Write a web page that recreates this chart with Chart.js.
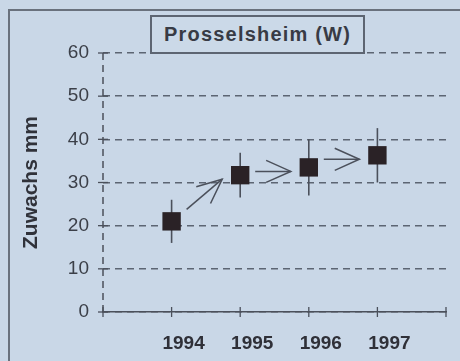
<!DOCTYPE html>
<html>
<head>
<meta charset="utf-8">
<script src="https://cdn.jsdelivr.net/npm/chart.js@4/dist/chart.umd.min.js"></script>
<style>
  html, body { margin: 0; padding: 0; overflow: hidden; }
  body { width: 460px; height: 361px; background: #c9d7e7; position: relative; font-family: "Liberation Sans", Arial, sans-serif; }
  #rahmen { position: absolute; left: 8px; top: 9px; width: 452px; height: 352px; border-left: 2px solid #69717d; border-top: 2px solid #69717d; box-sizing: border-box; }
  #wrap { position: absolute; left: 0; top: 0; width: 460px; height: 361px; }
  #titel { position: absolute; left: 150px; top: 15px; width: 215px; height: 39px; box-sizing: border-box;
           border: 2px solid #5d6572; background: #cbd9e8; color: #383b45; font-weight: bold; font-size: 20px;
           letter-spacing: 1.2px; text-align: center; line-height: 35px; }
</style>
</head>
<body>
<div id="rahmen"></div>
<div id="wrap"><canvas id="grafik" width="460" height="361"></canvas></div>
<div id="titel">Prosselsheim (W)</div>
<script>
const jahre = [1994, 1995, 1996, 1997];
const zuwachs = [21, 31.7, 33.5, 36.3];
const fehler = [5, 5.2, 6.5, 6.3];
const yTicks = [0, 10, 20, 30, 40, 50, 60];

const dunkel = '#4b505b';

// Fehlerbalken, Pfeile, gestrichelte y-Achse und Achsenkreuzchen
const extras = {
  id: 'extras',
  beforeDatasetsDraw(chart) {
    const ctx = chart.ctx, x = chart.scales.x, y = chart.scales.y;
    ctx.save();
    ctx.strokeStyle = dunkel;
    // y-Achse gestrichelt
    ctx.lineWidth = 1.5;
    ctx.setLineDash([7, 5]);
    ctx.beginPath(); ctx.moveTo(x.left, y.top); ctx.lineTo(x.left, y.bottom); ctx.stroke();
    ctx.setLineDash([]);
    ctx.lineWidth = 1.6;
    jahre.forEach((j, i) => {
      const px = x.getPixelForValue(j);
      ctx.beginPath();
      ctx.moveTo(px, y.getPixelForValue(zuwachs[i] + fehler[i]));
      ctx.lineTo(px, y.getPixelForValue(zuwachs[i] - fehler[i]));
      ctx.stroke();
    });
    // Kreuzchen an den Achsen
    ctx.lineWidth = 1.3;
    const x0 = x.left, y0 = y.getPixelForValue(0);
    yTicks.forEach(v => {
      const py = y.getPixelForValue(v);
      ctx.beginPath(); ctx.moveTo(x0 - 5, py); ctx.lineTo(x0 + 5, py); ctx.stroke();
    });
    x.ticks.forEach(t => {
      const px = x.getPixelForValue(t.value);
      ctx.beginPath(); ctx.moveTo(px, y0 - 5); ctx.lineTo(px, y0 + 5); ctx.stroke();
    });
    ctx.restore();
  },
  afterDatasetsDraw(chart) {
    const ctx = chart.ctx, x = chart.scales.x, y = chart.scales.y;
    ctx.save();
    ctx.strokeStyle = dunkel;
    ctx.lineWidth = 1.5;
    for (let i = 0; i < jahre.length - 1; i++) {
      const xa = x.getPixelForValue(jahre[i]), ya = y.getPixelForValue(zuwachs[i]);
      const xb = x.getPixelForValue(jahre[i + 1]), yb = y.getPixelForValue(zuwachs[i + 1]);
      const ey = yb + 4;
      const sy = Math.max(ya - 12, ey);
      const sx = xa + 15, ex = xb - 18;
      ctx.beginPath(); ctx.moveTo(sx, sy); ctx.lineTo(ex, ey); ctx.stroke();
      const w = Math.atan2(ey - sy, ex - sx);
      const l = 27, a = 0.42;
      ctx.beginPath();
      ctx.moveTo(ex - l * Math.cos(w - a), ey - l * Math.sin(w - a));
      ctx.lineTo(ex, ey);
      ctx.lineTo(ex - l * Math.cos(w + a), ey - l * Math.sin(w + a));
      ctx.stroke();
    }
    ctx.restore();
  }
};

new Chart(document.getElementById('grafik'), {
  type: 'scatter',
  data: {
    datasets: [{
      label: 'Zuwachs',
      data: jahre.map((j, i) => ({ x: j, y: zuwachs[i] })),
      pointStyle: 'rect',
      pointRadius: 13,
      pointHoverRadius: 13,
      backgroundColor: '#2a2226',
      borderColor: '#2a2226',
      borderWidth: 0
    }]
  },
  options: {
    responsive: false,
    animation: false,
    layout: { padding: { top: 53, right: 14, bottom: 0, left: 0 } },
    plugins: { legend: { display: false }, tooltip: { enabled: false } },
    scales: {
      x: {
        type: 'linear',
        min: 1993,
        max: 1998,
        afterFit(s) { s.height = 49; },
        border: { color: dunkel, width: 1.6 },
        grid: { display: false },
        ticks: {
          stepSize: 1,
          padding: 12,
          labelOffset: 12,
          color: '#2f3038',
          font: { family: 'Liberation Sans', size: 19, weight: 'bold' },
          callback: v => jahre.includes(v) ? String(v) : ''
        }
      },
      y: {
        min: 0,
        max: 60,
        afterFit(s) { s.width = 103; },
        border: { display: false, dash: [7, 5] },
        grid: { color: '#5c6573', lineWidth: 1.4, drawTicks: false },
        ticks: {
          stepSize: 10,
          padding: 14,
          color: '#3b3f48',
          font: { family: 'Liberation Sans', size: 19 }
        },
        title: {
          display: true,
          text: 'Zuwachs mm',
          color: '#30323a',
          font: { family: 'Liberation Sans', size: 21, weight: 'bold' },
          padding: { top: 19, bottom: 0 }
        }
      }
    }
  },
  plugins: [extras]
});
</script>
</body>
</html>
